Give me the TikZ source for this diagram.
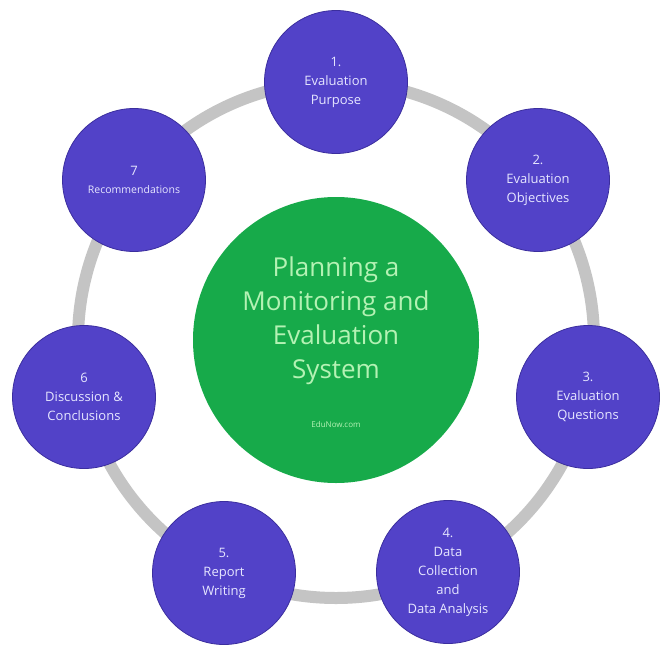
\documentclass[tikz,border=0pt]{standalone}
\usepackage{fontspec}
\setmainfont{Open Sans}
\definecolor{ringgray}{HTML}{C4C4C4}
\definecolor{nodepurple}{HTML}{5242C8}
\definecolor{nodeedge}{HTML}{3B2E9E}
\definecolor{hubgreen}{HTML}{17AA4A}
\definecolor{hubtext}{HTML}{B4F2B4}
\definecolor{steptext}{HTML}{E6E6FF}
\begin{document}
\begin{tikzpicture}[x=1pt,y=-1pt,
  stepnode/.style={circle,fill=nodepurple,draw=nodeedge,line width=0.8pt,minimum size=143pt,inner sep=0pt,
    text=steptext,align=center,font=\fontsize{13}{19}\selectfont},
  hub/.style={circle,fill=hubgreen,minimum size=286pt,inner sep=0pt},
  hubtitle/.style={text=hubtext,align=center,font=\fontsize{26}{34}\selectfont},
  smalltext/.style={text=hubtext,font=\fontsize{8}{10}\selectfont}]
\useasboundingbox (0,0) rectangle (672,656);
\fill[white] (0,0) rectangle (672,656);
\coordinate (c) at (336,340);
\draw[ringgray,line width=12pt] (c) circle[radius=258];
\node[hub] (h) at (c) {};
\node[hubtitle] (ht) at (336,321) {Planning a\\Monitoring and\\Evaluation\\System};
\node[smalltext] (hs) at (336,425) {EduNow.com};
\node[stepnode] (n1) at (336,82) {1.\\Evaluation\\Purpose};
\node[stepnode] (n2) at (538,180) {2.\\Evaluation\\Objectives};
\node[stepnode] (n3) at (588,397) {3.\\Evaluation\\Questions};
\node[stepnode] (n4) at (448,572) {4.\\Data\\Collection\\and\\Data Analysis};
\node[stepnode] (n5) at (224,573) {5.\\Report\\Writing};
\node[stepnode] (n6) at (84,397) {6\\Discussion \&\\Conclusions};
\node[stepnode,font=\fontsize{10.5}{18}\selectfont] (n7) at (134,180) {\fontsize{13}{18}\selectfont 7\\Recommendations};
\end{tikzpicture}
\end{document}
